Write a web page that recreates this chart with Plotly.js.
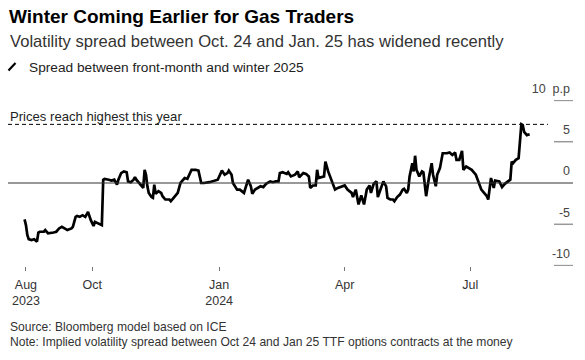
<!DOCTYPE html>
<html>
<head>
<meta charset="utf-8">
<script src="https://cdn.plot.ly/plotly-3.0.1.min.js"></script>
<style>
  html, body { margin: 0; padding: 0; background: #fff; }
  #chart { width: 585px; height: 360px; }
</style>
</head>
<body>
<div id="chart"></div>
<script>
// ---- Data ----
const dates = [
  '2023-08-13','2023-08-14','2023-08-15','2023-08-16','2023-08-18','2023-08-20','2023-08-22','2023-08-23','2023-08-24','2023-08-27','2023-08-28','2023-08-30',
  '2023-09-03','2023-09-05','2023-09-07','2023-09-09','2023-09-11','2023-09-13','2023-09-16','2023-09-17','2023-09-19','2023-09-20','2023-09-22','2023-09-24','2023-09-26','2023-09-28','2023-09-30',
  '2023-10-02','2023-10-03','2023-10-05','2023-10-08','2023-10-09','2023-10-10','2023-10-13','2023-10-15','2023-10-17','2023-10-19','2023-10-20','2023-10-22','2023-10-24','2023-10-26','2023-10-27','2023-10-29','2023-10-31',
  '2023-11-01','2023-11-02','2023-11-04','2023-11-06','2023-11-07','2023-11-08','2023-11-09','2023-11-10','2023-11-11','2023-11-13','2023-11-14','2023-11-15','2023-11-16','2023-11-18','2023-11-20','2023-11-21','2023-11-23','2023-11-26','2023-11-27','2023-11-29',
  '2023-12-02','2023-12-04','2023-12-07','2023-12-09','2023-12-11','2023-12-12','2023-12-15','2023-12-17','2023-12-19','2023-12-21','2023-12-25','2023-12-29','2023-12-31',
  '2024-01-03','2024-01-05','2024-01-07','2024-01-08','2024-01-10','2024-01-11','2024-01-14','2024-01-16','2024-01-19','2024-01-21','2024-01-22','2024-01-24','2024-01-25','2024-01-27','2024-01-29','2024-01-31',
  '2024-02-02','2024-02-04','2024-02-07','2024-02-09','2024-02-11','2024-02-13','2024-02-14','2024-02-16','2024-02-19','2024-02-20','2024-02-22','2024-02-25','2024-02-27','2024-02-28',
  '2024-03-02','2024-03-04','2024-03-06','2024-03-07','2024-03-09','2024-03-11','2024-03-12','2024-03-13','2024-03-17','2024-03-18','2024-03-20','2024-03-21','2024-03-23','2024-03-25','2024-03-27','2024-03-30',
  '2024-04-01','2024-04-03','2024-04-06','2024-04-07','2024-04-09','2024-04-11','2024-04-13','2024-04-15','2024-04-17','2024-04-19','2024-04-20','2024-04-22','2024-04-24','2024-04-25','2024-04-27','2024-04-29',
  '2024-05-01','2024-05-02','2024-05-04','2024-05-06','2024-05-07','2024-05-09','2024-05-11','2024-05-13','2024-05-14','2024-05-16','2024-05-17','2024-05-18','2024-05-20','2024-05-21','2024-05-22','2024-05-23','2024-05-25','2024-05-27','2024-05-28','2024-05-30',
  '2024-06-01','2024-06-03','2024-06-04','2024-06-06','2024-06-07','2024-06-09','2024-06-11','2024-06-14','2024-06-16','2024-06-18','2024-06-20','2024-06-21','2024-06-23','2024-06-25','2024-06-26','2024-06-28','2024-06-30',
  '2024-07-02','2024-07-05','2024-07-07','2024-07-09','2024-07-11','2024-07-13','2024-07-14','2024-07-16','2024-07-18','2024-07-19','2024-07-22','2024-07-24','2024-07-26','2024-07-28','2024-07-30','2024-07-31',
  '2024-08-01','2024-08-03','2024-08-05','2024-08-07','2024-08-08','2024-08-09','2024-08-11','2024-08-13'
];
const spread = [
  -4.4,-5.1,-6.3,-6.8,-6.9,-6.8,-7.1,-6.0,-5.9,-5.9,-5.7,-6.1,
  -6.0,-5.9,-5.5,-5.3,-5.5,-5.7,-5.5,-5.3,-4.1,-4.0,-4.1,-3.9,-4.1,-3.5,-4.5,
  -5.2,-4.7,-4.9,-5.1,0.4,0.5,0.4,0.3,0.4,-0.2,0.4,1.2,1.4,1.3,0.2,0.1,0.4,
  0.7,0.4,0.0,-0.5,-0.6,1.6,1.0,-0.4,-1.2,-1.7,-1.8,-0.2,-1.3,-1.0,-1.2,-1.6,-2.0,-2.0,-2.2,-1.8,
  -1.2,0.0,0.6,0.5,1.2,1.6,1.6,1.5,0.0,0.0,0.1,0.3,0.4,
  1.5,1.0,1.2,1.5,1.0,0.0,-0.8,-0.8,-1.2,-0.2,0.4,-0.4,-1.3,-0.8,-0.6,-0.4,
  -0.5,-0.1,0.2,0.1,0.2,0.2,1.2,1.3,1.1,1.3,0.8,1.0,1.4,0.7,
  1.2,1.1,0.8,-0.6,-0.3,-0.3,1.6,0.6,0.8,2.6,1.4,1.0,0.0,-0.8,-0.6,-0.4,
  -0.3,-0.8,-1.2,-1.7,-0.8,-2.6,-1.5,-2.6,-0.8,-0.3,-1.2,-0.1,0.2,-1.7,-0.8,0.2,
  -0.4,-1.8,-2.0,-2.0,-2.2,-1.7,-1.4,-0.8,-0.7,-1.2,-0.8,0.8,2.4,1.4,3.3,1.6,0.8,1.4,1.3,-1.6,
  0.6,2.4,1.0,-0.4,1.0,1.8,3.6,3.6,3.7,3.4,3.7,2.8,2.8,3.9,1.6,2.0,1.8,
  1.6,1.0,0.2,-0.8,-1.2,-1.6,-2.0,0.6,-0.6,0.3,0.2,-0.5,-0.1,0.2,0.4,2.6,
  2.4,2.8,3.0,7.1,7.0,6.2,5.8,5.9
];
const yearHigh = 7.1;

const xTickVals = ['2023-08-14','2023-10-01','2024-01-01','2024-04-01','2024-07-01'];
const xTickText = ['Aug','Oct','Jan','Apr','Jul'];
const yearTickVals = ['2023-08-14','2024-01-01'];
const yearTickText = ['2023','2024'];
const yTickVals = [-10,-5,0,5,10];
const yTickText = ['-10','-5','0','5','10\u00a0\u00a0p.p'];

const titleText = 'Winter Coming Earlier for Gas Traders';
const subtitleText = 'Volatility spread between Oct. 24 and Jan. 25 has widened recently';
const legendText = 'Spread between front-month and winter 2025';
const highText = 'Prices reach highest this year';
const sourceText = 'Source: Bloomberg model based on ICE';
const noteText = 'Note: Implied volatility spread between Oct 24 and Jan 25 TTF options contracts at the money';

// ---- Chart ----
const FONT = '"Liberation Sans", Arial, Helvetica, sans-serif';
// paper-y helper for the fixed plot box (top 100px, height 166px)
const py = (px) => (266 - px) / 166;
const pxX = (px) => (px - 8) / 565;
const xRange = ['2023-08-01', '2024-09-13 10:00'];

const trace = {
  x: dates, y: spread, type: 'scatter', mode: 'lines',
  line: { color: '#000', width: 2.7 },
  hoverinfo: 'skip'
};
// invisible helper trace so the year-label axis is drawn
const yearTrace = {
  x: yearTickVals, y: [0, 0], xaxis: 'x2', yaxis: 'y', type: 'scatter', mode: 'markers',
  marker: { opacity: 0 }, hoverinfo: 'skip', showlegend: false
};

const shapes = [
  // zero line
  { type: 'line', xref: 'paper', yref: 'y', x0: 0, x1: 1, y0: 0, y1: 0, line: { color: '#333', width: 1 } },
  // year high dashed line
  { type: 'line', xref: 'paper', yref: 'y', x0: 0, x1: pxX(548), y0: yearHigh, y1: yearHigh, line: { color: '#000', width: 1, dash: '4px,3px' } },
  // legend slash
  { type: 'line', xref: 'paper', yref: 'paper', x0: pxX(8.5), x1: pxX(15.5), y0: py(70.5), y1: py(63), line: { color: '#000', width: 2.2 } }
];
yTickVals.forEach(v => {
  if (v !== 0) shapes.push({ type: 'line', xref: 'paper', yref: 'y', x0: pxX(554), x1: 1, y0: v, y1: v, line: { color: '#999', width: 1.5 } });
});

const ann = (text, y, size, color, opts) => Object.assign({
  text, xref: 'paper', yref: 'paper', x: 0, y, xanchor: 'left', yanchor: 'middle',
  showarrow: false, font: { family: FONT, size, color }, align: 'left'
}, opts || {});

const annotations = [
  ann('<b>' + titleText + '</b>', py(16.4), 19, '#000', { x: -0.002 }),
  ann(subtitleText, py(41), 16.6, '#333'),
  ann(legendText, py(67.3), 13.7, '#222', { x: pxX(26.5) }),
  ann(highText, py(116), 13.1, '#222'),
  ann(sourceText, py(327), 12.1, '#333'),
  ann(noteText, py(341.5), 12.1, '#333')
];

const layout = {
  width: 585, height: 360,
  margin: { l: 8, r: 12, t: 100, b: 94, pad: 0 },
  paper_bgcolor: '#fff', plot_bgcolor: '#fff',
  showlegend: false,
  font: { family: FONT, color: '#333' },
  xaxis: {
    type: 'date', range: xRange,
    tickmode: 'array', tickvals: xTickVals, ticktext: xTickText,
    ticks: 'outside', ticklen: 4, tickwidth: 1, tickcolor: '#777',
    ticklabelstandoff: 3,
    showgrid: false, zeroline: false, showline: false,
    tickfont: { family: FONT, size: 12.5, color: '#333' },
    fixedrange: true
  },
  xaxis2: {
    type: 'date', range: xRange, overlaying: 'x', anchor: 'y', side: 'bottom',
    tickmode: 'array', tickvals: yearTickVals, ticktext: yearTickText,
    ticks: '', ticklabelstandoff: 25,
    showgrid: false, zeroline: false, showline: false,
    tickfont: { family: FONT, size: 12.5, color: '#333' },
    fixedrange: true
  },
  yaxis: {
    range: [-10.05, 10.05], side: 'right',
    tickmode: 'array', tickvals: yTickVals, ticktext: yTickText,
    ticklabelposition: 'inside', ticklabelshift: -12, ticklabeloverflow: 'allow',
    ticks: '', showgrid: false, zeroline: false, showline: false,
    tickfont: { family: FONT, size: 12.5, color: '#444' },
    fixedrange: true
  },
  shapes, annotations
};

Plotly.newPlot('chart', [trace, yearTrace], layout, { displayModeBar: false, staticPlot: true });
</script>
</body>
</html>
